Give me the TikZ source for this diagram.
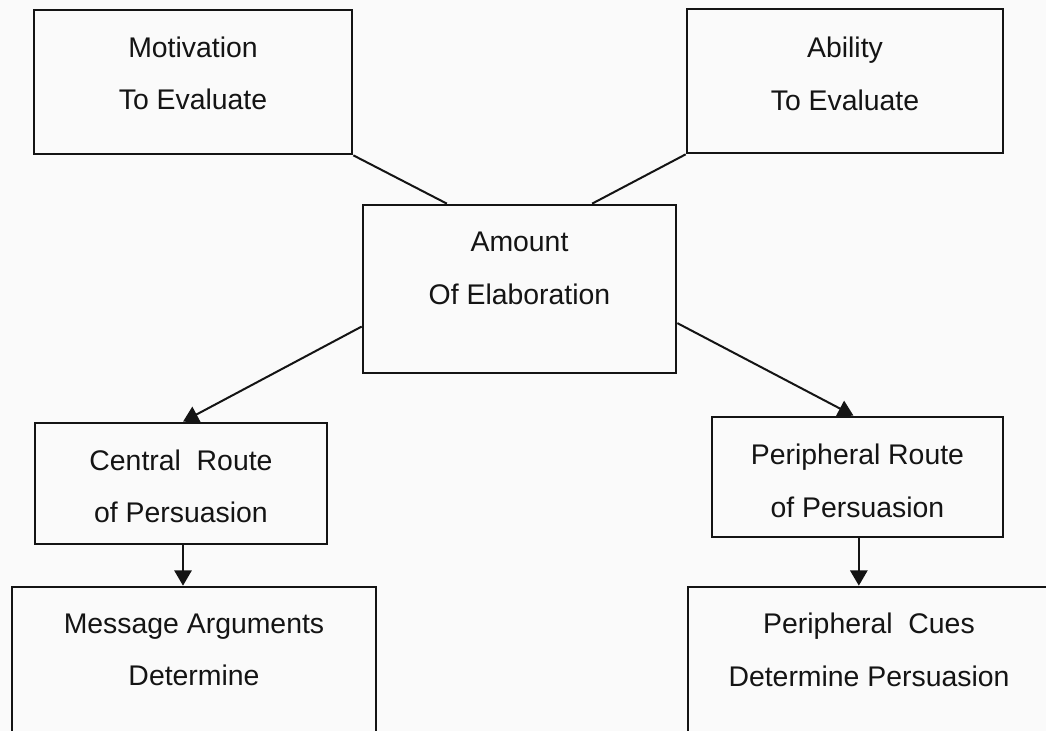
\documentclass[tikz,border=0pt]{standalone}
\usepackage{fontspec}
\setmainfont{Liberation Sans}
\usepackage{xcolor}
\definecolor{elmline}{RGB}{20,20,20}
\definecolor{elmpaper}{RGB}{250,250,250}
\usepackage{tikz}
\usetikzlibrary{arrows.meta, positioning, calc}

\begin{document}
\begin{tikzpicture}[x=0.75pt, y=-0.75pt,
    elmbox/.style={draw=elmline, line width=2pt, rectangle, inner sep=0pt},
    elmtext/.style={font=\fontsize{21.3}{39.5}\selectfont, align=center, text=elmline},
    elmlink/.style={draw=elmline, line width=1.5pt},
    elmarrow/.style={elmlink, -{Triangle[width=13pt,length=11.5pt]}}]
  \useasboundingbox[fill=elmpaper] (0,0) rectangle (1046,731);

  % Top row
  \node[elmbox, minimum width=238.5pt, minimum height=108pt] (motivation) at (193,82) {};
  \node[elmtext] (motivation-t) at (193,73.5) {Motivation\\To Evaluate};
  \node[elmbox, minimum width=237pt, minimum height=108pt] (ability) at (845,81) {};
  \node[elmtext] (ability-t) at (845,74) {Ability\\To Evaluate};

  % Middle
  \node[elmbox, minimum width=234.75pt, minimum height=126pt] (elaboration) at (519.5,289) {};
  \node[elmtext] (elaboration-t) at (519.5,268.5) {Amount\\Of Elaboration};

  % Routes
  \node[elmbox, minimum width=219pt, minimum height=90.75pt] (central) at (181,483.5) {};
  \node[elmtext] (central-t) at (181,486.5) {Central~~Route\\of Persuasion};
  \node[elmbox, minimum width=218.25pt, minimum height=90pt] (peripheral) at (857.5,477) {};
  \node[elmtext] (peripheral-t) at (857.5,481) {Peripheral Route\\of Persuasion};

  % Outcomes
  \node[elmbox, minimum width=273pt, minimum height=118.5pt] (message) at (194,666) {};
  \node[elmtext] (message-t) at (194,650) {Message Arguments\\Determine};
  \node[elmbox, minimum width=271.5pt, minimum height=118.5pt] (cues) at (869,666) {};
  \node[elmtext] (cues-t) at (869,650) {Peripheral~~Cues\\Determine Persuasion};

  % Connectors
  \draw[elmlink] (motivation.south east) -- ($(elaboration.north west)!0.27!(elaboration.north east)$);
  \draw[elmlink] (ability.south west) -- ($(elaboration.north west)!0.73!(elaboration.north east)$);
  \draw[elmarrow] ($(elaboration.north west)!0.72!(elaboration.south west)$) -- ([xshift=1.5pt]central.north);
  \draw[elmarrow] ($(elaboration.north east)!0.70!(elaboration.south east)$) -- ([xshift=-3pt]peripheral.north);
  \draw[elmarrow] ([xshift=1.5pt]central.south) -- ([xshift=1.5pt]central.south |- message.north);
  \draw[elmarrow] ([xshift=1pt]peripheral.south) -- ([xshift=1pt]peripheral.south |- cues.north);
\end{tikzpicture}
\end{document}
